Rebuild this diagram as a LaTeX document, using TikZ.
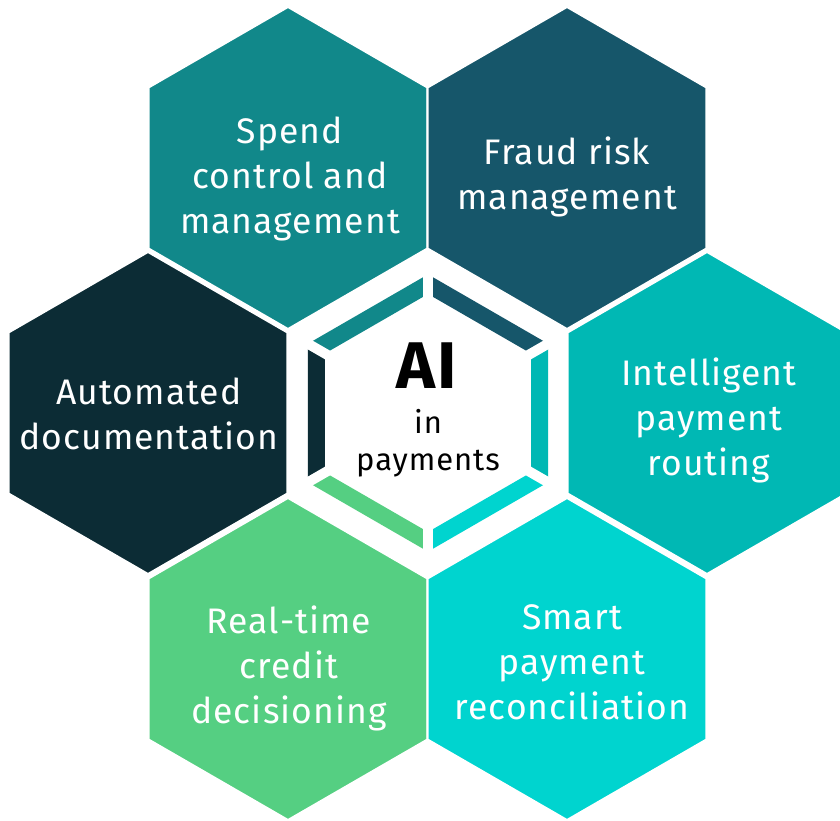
\documentclass[tikz,border=0pt]{standalone}
\usepackage{fontspec}
\usetikzlibrary{calc}
\setmainfont[LetterSpace=3]{Fira Sans}
\definecolor{cTL}{HTML}{11888A}
\definecolor{cTR}{HTML}{16566A}
\definecolor{cL}{HTML}{0C2C35}
\definecolor{cR}{HTML}{00B8B4}
\definecolor{cBL}{HTML}{55CF82}
\definecolor{cBR}{HTML}{00D4CF}
\newcommand\hexpath[3]{({#1},{#2-#3}) -- ({#1+0.8660*#3},{#2-0.5*#3}) -- ({#1+0.8660*#3},{#2+0.5*#3}) -- ({#1},{#2+#3}) -- ({#1-0.8660*#3},{#2+0.5*#3}) -- ({#1-0.8660*#3},{#2-0.5*#3}) -- cycle}
\begin{document}
\begin{tikzpicture}[x=1pt,y=-1pt,
  hexcell/.style={fill=#1, draw=white, line width=2pt, line join=miter},
  hexlabel/.style={text=white, align=center, font=\fontsize{35.5}{45}\selectfont, inner sep=0pt},
  ringseg/.style={fill=#1, draw=none},
  gapline/.style={draw=white, line width=10pt}]
\useasboundingbox (0,0) rectangle (840,821);
\fill[white] (0,0) rectangle (840,821);
% outer hexagons
\path[hexcell=cTL] \hexpath{288}{168}{161};
\path[hexcell=cTR] \hexpath{567}{168}{161};
\path[hexcell=cL]  \hexpath{148}{413}{161};
\path[hexcell=cR]  \hexpath{707}{413}{161};
\path[hexcell=cBL] \hexpath{288}{659}{161};
\path[hexcell=cBR] \hexpath{567}{659}{161};
% centre ring
\coordinate (c) at (428,413);
\def\Ro{138.6}
\def\Ri{119}
\foreach \a/\col in {30/cTR, 90/cTL, 150/cL, 210/cBL, 270/cBR, 330/cR}{
  \fill[ringseg=\col] ($(c)+(-\a:\Ro)$) -- ($(c)+(-\a-60:\Ro)$) -- ($(c)+(-\a-60:\Ri)$) -- ($(c)+(-\a:\Ri)$) -- cycle;
}
\foreach \a in {30,90,150,210,270,330}{
  \draw[gapline] ($(c)+(-\a:\Ri-6)$) -- ($(c)+(-\a:\Ro+6)$);
}
% labels
\node[hexlabel] (tTL) at (290,179) {Spend\\control and\\management};
\node[hexlabel] (tTR) at (567,177) {Fraud risk\\management};
\node[hexlabel] (tL)  at (149,414) {Automated\\documentation};
\node[hexlabel] (tR)  at (709,420) {Intelligent\\payment\\routing};
\node[hexlabel] (tBL) at (289,668) {Real-time\\credit\\decisioning};
\node[hexlabel] (tBR) at (572,662) {Smart\\payment\\reconciliation};
\node[font=\fontsize{66}{66}\bfseries\selectfont, inner sep=0pt] (ai) at (427,366) {AI};
\node[font=\fontsize{31}{37.5}\selectfont, align=center, inner sep=0pt] (inpay) at (428,443) {in\\payments};
\end{tikzpicture}
\end{document}
